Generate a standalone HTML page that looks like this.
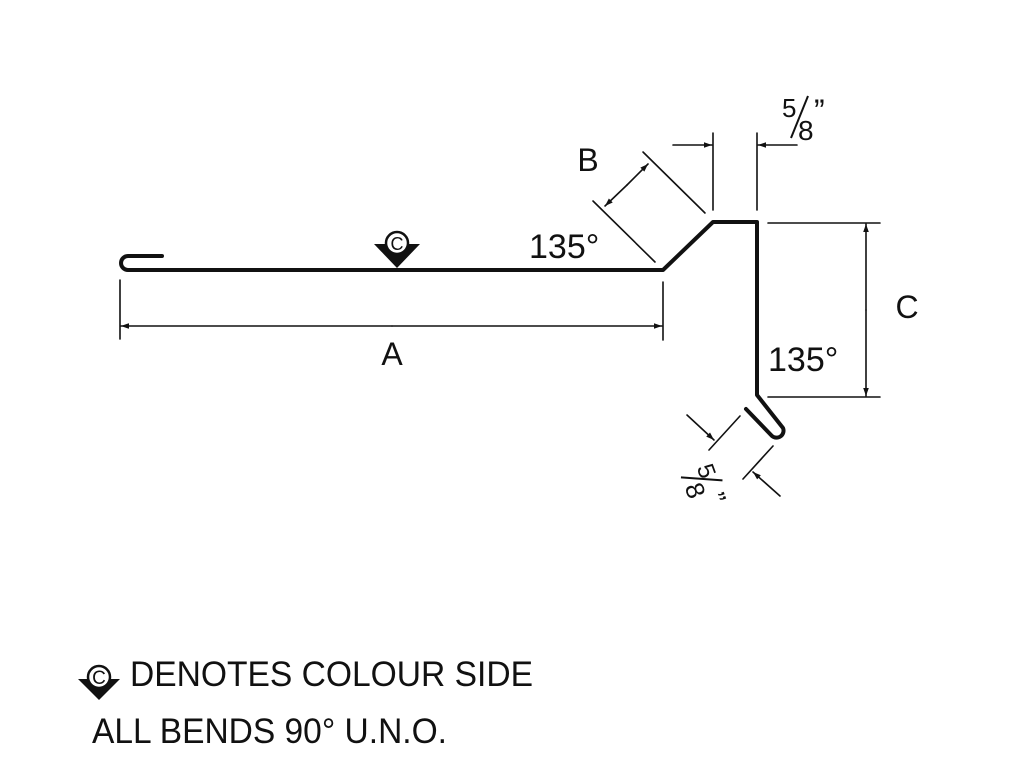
<!DOCTYPE html>
<html><head><style>html,body{margin:0;padding:0;background:#fff}</style></head><body>
<svg width="1024" height="768" viewBox="0 0 1024 768" xmlns="http://www.w3.org/2000/svg" font-family="Liberation Sans, sans-serif">
<defs>
<marker id="ar" viewBox="0 0 10 10" refX="10" refY="5" markerWidth="12" markerHeight="8" markerUnits="userSpaceOnUse" orient="auto"><path d="M0,1.5 L10,5 L0,8.5 z" fill="#111"/></marker>
</defs>
<g fill="none" stroke="#111" stroke-linecap="round" stroke-linejoin="round">
<path d="M162,256 L128,256 A6.5,6.5 0 0 0 128,270 L663,270 L713,222 L757,222 L757,395 L783,428 A7,7 0 0 1 772,436 L746,409" stroke-width="4"/>
<g stroke-width="1.6">
<line x1="120" y1="280" x2="120" y2="339"/>
<line x1="663" y1="282" x2="663" y2="340"/>
<line x1="392" y1="326" x2="121" y2="326" marker-end="url(#ar)"/>
<line x1="392" y1="326" x2="662" y2="326" marker-end="url(#ar)"/>
<line x1="643" y1="152" x2="705" y2="213"/>
<line x1="593" y1="201" x2="655" y2="262"/>
<line x1="627" y1="185" x2="648" y2="164" marker-end="url(#ar)"/>
<line x1="627" y1="185" x2="605" y2="206" marker-end="url(#ar)"/>
<line x1="713" y1="133" x2="713" y2="210"/>
<line x1="757" y1="133" x2="757" y2="210"/>
<line x1="673" y1="145" x2="712" y2="145" marker-end="url(#ar)"/>
<line x1="797" y1="145" x2="758" y2="145" marker-end="url(#ar)"/>
<line x1="768" y1="223" x2="880" y2="223"/>
<line x1="768" y1="397" x2="880" y2="397"/>
<line x1="866" y1="310" x2="866" y2="224" marker-end="url(#ar)"/>
<line x1="866" y1="310" x2="866" y2="396" marker-end="url(#ar)"/>
<line x1="740" y1="416" x2="709" y2="450"/>
<line x1="773" y1="446" x2="743" y2="479"/>
<line x1="687" y1="415" x2="714" y2="440" marker-end="url(#ar)"/>
<line x1="780" y1="496" x2="753" y2="472" marker-end="url(#ar)"/>
</g>
</g>
<polygon points="374,244 420,244 397,268" fill="#111"/>
<circle cx="397" cy="243" r="11" fill="#fff" stroke="#111" stroke-width="2.5"/>
<polygon points="78,679 120,679 99,700" fill="#111"/>
<circle cx="99" cy="677" r="11" fill="#fff" stroke="#111" stroke-width="2.5"/>
<g fill="#111" stroke="none">
<text x="397" y="250" font-size="18" text-anchor="middle">C</text>
<text x="99" y="684" font-size="19" text-anchor="middle">C</text>
<text x="392" y="365" font-size="32" text-anchor="middle">A</text>
<text x="588" y="171" font-size="32" text-anchor="middle">B</text>
<text x="907" y="318" font-size="32" text-anchor="middle">C</text>
<text x="529" y="258" font-size="34">135°</text>
<text x="768" y="371" font-size="34">135°</text>
<text x="782" y="117" font-size="26">5</text>
<text x="798" y="140" font-size="28">8</text>
<line x1="791" y1="138" x2="808" y2="96" stroke="#111" stroke-width="2"/>
<text x="814" y="122" font-size="32">”</text>
<g transform="translate(700,480) rotate(70)">
<text x="-13" y="-1" font-size="24">5</text>
<text x="1" y="17" font-size="26">8</text>
<line x1="-9" y1="17" x2="8" y2="-21" stroke="#111" stroke-width="2"/>
<text x="18" y="1" font-size="28">”</text>
</g>
<text x="130" y="686" font-size="35" textLength="403" lengthAdjust="spacingAndGlyphs">DENOTES COLOUR SIDE</text>
<text x="92" y="743" font-size="35" textLength="355" lengthAdjust="spacingAndGlyphs">ALL BENDS 90° U.N.O.</text>
</g>
</svg>
</body></html>
